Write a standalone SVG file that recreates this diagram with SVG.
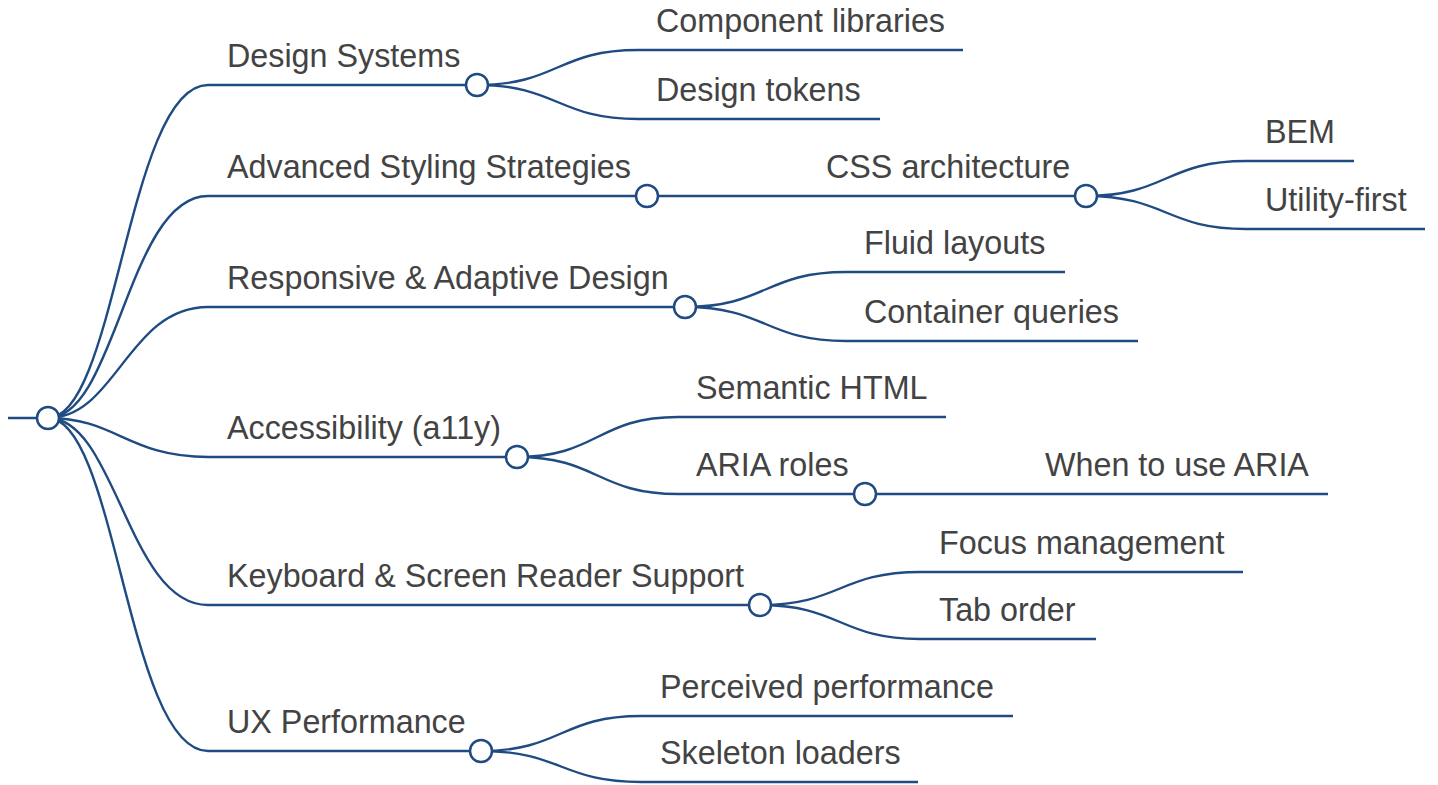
<svg xmlns="http://www.w3.org/2000/svg" width="1438" height="785" viewBox="0 0 1438 785">
  <style>
    .link { fill: none; stroke: #1f4b82; stroke-width: 2.4; }
    .under { stroke: #1f4b82; stroke-width: 2.4; }
    .dot { fill: #ffffff; stroke: #1f4b82; stroke-width: 2.5; }
    .label { font-family: "Liberation Sans", Arial, sans-serif; font-size: 32.3px; fill: #434343; }
  </style>
  <rect width="1438" height="785" fill="#ffffff"/>

  <!-- curved links between nodes -->
  <g id="connectors">
    <path class="link" d="M48,418 C116,418 128,85 208,85"/>
    <path class="link" d="M48,418 C116,418 128,196 208,196"/>
    <path class="link" d="M48,418 C116,418 128,307 208,307"/>
    <path class="link" d="M48,418 C116,418 128,457 208,457"/>
    <path class="link" d="M48,418 C116,418 128,605 208,605"/>
    <path class="link" d="M48,418 C116,418 128,751 208,751"/>

    <path class="link" d="M477,85 C557.5,85 557.5,50 638,50"/>
    <path class="link" d="M477,85 C557.5,85 557.5,119 638,119"/>

    <path class="link" d="M647,196 L808,196"/>
    <path class="link" d="M1086,196 C1166,196 1166,161 1246,161"/>
    <path class="link" d="M1086,196 C1166,196 1166,229 1246,229"/>

    <path class="link" d="M685,307 C765.5,307 765.5,272 846,272"/>
    <path class="link" d="M685,307 C765.5,307 765.5,341 846,341"/>

    <path class="link" d="M517,457 C597.5,457 597.5,417 678,417"/>
    <path class="link" d="M517,457 C597.5,457 597.5,494 678,494"/>
    <path class="link" d="M865,494 L1026,494"/>

    <path class="link" d="M760,605 C840,605 840,572 920,572"/>
    <path class="link" d="M760,605 C840,605 840,639 920,639"/>

    <path class="link" d="M481,751 C561,751 561,716 641,716"/>
    <path class="link" d="M481,751 C561,751 561,782 641,782"/>
  </g>

  <!-- root -->
  <g id="root">
    <line class="under" x1="8" y1="418" x2="48" y2="418"/>
    <circle class="dot" cx="48" cy="418" r="11"/>
  </g>

  <!-- first level -->
  <g id="design-systems">
    <line class="under" x1="208" y1="85" x2="477" y2="85"/>
    <circle class="dot" cx="477" cy="85" r="11"/>
    <text class="label" x="227" y="67">Design Systems</text>
  </g>
  <g id="advanced-styling">
    <line class="under" x1="208" y1="196" x2="647" y2="196"/>
    <circle class="dot" cx="647" cy="196" r="11"/>
    <text class="label" x="227" y="178">Advanced Styling Strategies</text>
  </g>
  <g id="responsive-adaptive">
    <line class="under" x1="208" y1="307" x2="685" y2="307"/>
    <circle class="dot" cx="685" cy="307" r="11"/>
    <text class="label" x="227" y="289">Responsive &amp; Adaptive Design</text>
  </g>
  <g id="accessibility">
    <line class="under" x1="208" y1="457" x2="517" y2="457"/>
    <circle class="dot" cx="517" cy="457" r="11"/>
    <text class="label" x="227" y="439">Accessibility (a11y)</text>
  </g>
  <g id="keyboard-screen-reader">
    <line class="under" x1="208" y1="605" x2="760" y2="605"/>
    <circle class="dot" cx="760" cy="605" r="11"/>
    <text class="label" x="227" y="587">Keyboard &amp; Screen Reader Support</text>
  </g>
  <g id="ux-performance">
    <line class="under" x1="208" y1="751" x2="481" y2="751"/>
    <circle class="dot" cx="481" cy="751" r="11"/>
    <text class="label" x="227" y="733">UX Performance</text>
  </g>

  <!-- second level -->
  <g id="component-libraries">
    <line class="under" x1="638" y1="50" x2="963" y2="50"/>
    <text class="label" x="656" y="32">Component libraries</text>
  </g>
  <g id="design-tokens">
    <line class="under" x1="638" y1="119" x2="880" y2="119"/>
    <text class="label" x="656" y="101">Design tokens</text>
  </g>
  <g id="css-architecture">
    <line class="under" x1="808" y1="196" x2="1086" y2="196"/>
    <circle class="dot" cx="1086" cy="196" r="11"/>
    <text class="label" x="826" y="178">CSS architecture</text>
  </g>
  <g id="fluid-layouts">
    <line class="under" x1="846" y1="272" x2="1065" y2="272"/>
    <text class="label" x="864" y="254">Fluid layouts</text>
  </g>
  <g id="container-queries">
    <line class="under" x1="846" y1="341" x2="1138" y2="341"/>
    <text class="label" x="864" y="323">Container queries</text>
  </g>
  <g id="semantic-html">
    <line class="under" x1="678" y1="417" x2="946" y2="417"/>
    <text class="label" x="696" y="399">Semantic HTML</text>
  </g>
  <g id="aria-roles">
    <line class="under" x1="678" y1="494" x2="865" y2="494"/>
    <circle class="dot" cx="865" cy="494" r="11"/>
    <text class="label" x="696" y="476">ARIA roles</text>
  </g>
  <g id="focus-management">
    <line class="under" x1="920" y1="572" x2="1243" y2="572"/>
    <text class="label" x="939" y="554">Focus management</text>
  </g>
  <g id="tab-order">
    <line class="under" x1="920" y1="639" x2="1096" y2="639"/>
    <text class="label" x="939" y="621">Tab order</text>
  </g>
  <g id="perceived-performance">
    <line class="under" x1="641" y1="716" x2="1013" y2="716"/>
    <text class="label" x="660" y="698">Perceived performance</text>
  </g>
  <g id="skeleton-loaders">
    <line class="under" x1="641" y1="782" x2="918" y2="782"/>
    <text class="label" x="660" y="764">Skeleton loaders</text>
  </g>

  <!-- third level -->
  <g id="bem">
    <line class="under" x1="1246" y1="161" x2="1354" y2="161"/>
    <text class="label" x="1265" y="143">BEM</text>
  </g>
  <g id="utility-first">
    <line class="under" x1="1246" y1="229" x2="1425" y2="229"/>
    <text class="label" x="1265" y="211">Utility-first</text>
  </g>
  <g id="when-to-use-aria">
    <line class="under" x1="1026" y1="494" x2="1328" y2="494"/>
    <text class="label" x="1045" y="476">When to use ARIA</text>
  </g>
</svg>
